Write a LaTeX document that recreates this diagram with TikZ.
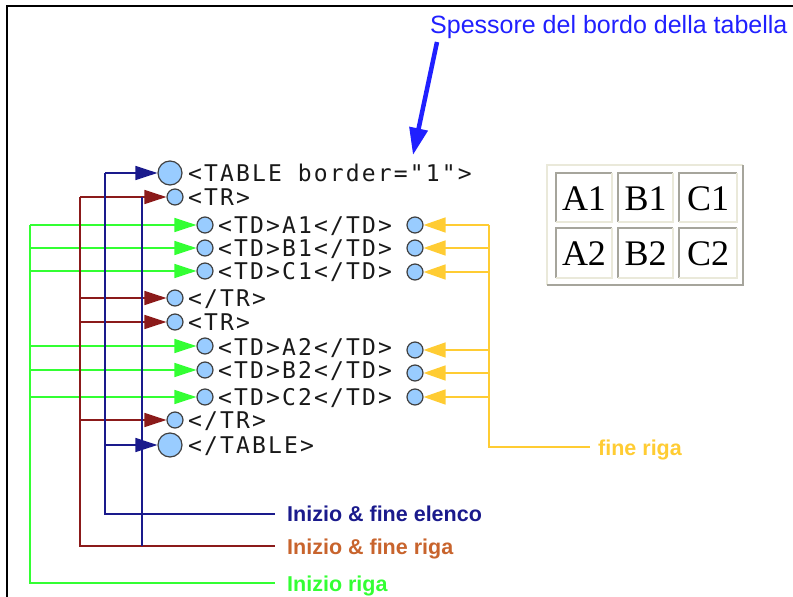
\documentclass[tikz,border=0pt]{standalone}
\usepackage{fontspec}
\setmainfont{Liberation Sans}
\setmonofont[LetterSpace=9.3]{DejaVu Sans Mono}
\newfontfamily\cellfont{Liberation Serif}
\usetikzlibrary{arrows.meta}
\definecolor{gr}{HTML}{33FF33}
\definecolor{mar}{HTML}{8B1A1A}
\definecolor{nav}{HTML}{1A1A8C}
\definecolor{yel}{HTML}{FFCC33}
\definecolor{cir}{HTML}{99CCFF}
\definecolor{rigalbl}{HTML}{C8642D}
\definecolor{bl}{HTML}{2020FF}
\definecolor{tlight}{HTML}{EAE9DA}
\definecolor{tdark}{HTML}{A6A59C}
\tikzset{
  bigdot/.style={circle,draw=black!75,fill=cir,line width=1.2pt,minimum size=24pt,inner sep=0pt},
  smalldot/.style={circle,draw=black!75,fill=cir,line width=1.2pt,minimum size=16pt,inner sep=0pt},
  code/.style={font=\ttfamily\fontsize{23}{23}\selectfont,anchor=base west,inner sep=0pt,text=black!90},
  lbl/.style={font=\bfseries\fontsize{21.5}{21.5}\selectfont,anchor=base west,inner sep=0pt},
  gline/.style={draw=gr,line width=1.6pt},
  mline/.style={draw=mar,line width=1.6pt},
  nline/.style={draw=nav,line width=1.6pt},
  yline/.style={draw=yel,line width=1.6pt},
  garrow/.style={gline,-{Triangle[length=22pt,width=14pt]}},
  marrow/.style={mline,-{Triangle[length=22pt,width=14pt]}},
  narrow/.style={nline,-{Triangle[length=22pt,width=14pt]}},
  yarrow/.style={yline,-{Triangle[length=22pt,width=15pt]}},
  cellbox/.style={font=\cellfont\fontsize{36}{36}\selectfont,inner sep=0pt},
}
\begin{document}
\begin{tikzpicture}[x=1pt,y=-1pt]
\useasboundingbox (0,0) rectangle (793,597);
% frame
\draw[line width=1.6pt] (7,597) -- (7,6) -- (793,6);

% title and arrow
\node[font=\fontsize{25}{25}\selectfont,text=bl,anchor=base west,inner sep=0pt] (sp) at (430,33) {Spessore del bordo della tabella};
\coordinate (spa) at (437,42);
\coordinate (spb) at (413,155);
\draw[bl,line width=4.5pt,-{Triangle[length=27pt,width=18pt]}] (spa) -- (spb);

% dots
\node[bigdot] (tab1) at (170,173) {};
\node[smalldot] (tr1) at (175,197) {};
\node[smalldot] (a1l) at (205,225) {};
\node[smalldot] (b1l) at (205,248) {};
\node[smalldot] (c1l) at (205,271) {};
\node[smalldot] (tr1e) at (175,298) {};
\node[smalldot] (tr2) at (175,322) {};
\node[smalldot] (a2l) at (205,346) {};
\node[smalldot] (b2l) at (205,370) {};
\node[smalldot] (c2l) at (205,397) {};
\node[smalldot] (tr2e) at (175,420) {};
\node[bigdot] (tab2) at (170,445) {};

\node[smalldot] (a1r) at (415,225) {};
\node[smalldot] (b1r) at (415,248) {};
\node[smalldot] (c1r) at (415,272) {};
\node[smalldot] (a2r) at (415,350) {};
\node[smalldot] (b2r) at (415,373) {};
\node[smalldot] (c2r) at (415,397) {};

% code texts
\node[code] (t1) at (188,181.5) {<TABLE border="1">};
\node[code] (t2) at (188,205.5) {<TR>};
\node[code] (t3) at (218,233.5) {<TD>A1</TD>};
\node[code] (t4) at (218,256.5) {<TD>B1</TD>};
\node[code] (t5) at (218,279.5) {<TD>C1</TD>};
\node[code] (t6) at (188,306.5) {</TR>};
\node[code] (t7) at (188,330.5) {<TR>};
\node[code] (t8) at (218,355.5) {<TD>A2</TD>};
\node[code] (t9) at (218,378.5) {<TD>B2</TD>};
\node[code] (t10) at (218,405.5) {<TD>C2</TD>};
\node[code] (t11) at (188,428.5) {</TR>};
\node[code] (t12) at (188,453.5) {</TABLE>};

% labels
\node[lbl,text=nav] (le) at (287,521) {Inizio \& fine elenco};
\node[lbl,text=rigalbl] (lr) at (287,554) {Inizio \& fine riga};
\node[lbl,text=gr] (lg) at (287,591) {Inizio riga};
\node[lbl,text=yel] (ly) at (598,455) {fine riga};

% green connectors
\coordinate (g1) at (30,225);
\coordinate (g2) at (30,248);
\coordinate (g3) at (30,271);
\coordinate (g4) at (30,346);
\coordinate (g5) at (30,370);
\coordinate (g6) at (30,397);
\coordinate (gend) at (275,583);
\draw[gline] (g1) |- (gend);
\draw[garrow] (g1) -- (a1l);
\draw[garrow] (g2) -- (b1l);
\draw[garrow] (g3) -- (c1l);
\draw[garrow] (g4) -- (a2l);
\draw[garrow] (g5) -- (b2l);
\draw[garrow] (g6) -- (c2l);

% maroon connectors
\coordinate (m1) at (80,197);
\coordinate (m2) at (80,298);
\coordinate (m3) at (80,322);
\coordinate (m4) at (80,420);
\coordinate (mend) at (275,546);
\draw[mline] (m1) |- (mend);
\draw[marrow] (m1) -- (tr1);
\draw[marrow] (m2) -- (tr1e);
\draw[marrow] (m3) -- (tr2);
\draw[marrow] (m4) -- (tr2e);

% navy connectors
\coordinate (n1) at (105,173);
\coordinate (n2) at (105,445);
\coordinate (nend) at (275,514);
\draw[nline] (n1) |- (nend);
\draw[narrow] (n1) -- (tab1);
\draw[narrow] (n2) -- (tab2);
\coordinate (nv1) at (142,197);
\coordinate (nv2) at (142,546);
\draw[nline] (nv1) -- (nv2);

% yellow connectors
\coordinate (y1) at (489,225);
\coordinate (y2) at (489,248);
\coordinate (y3) at (489,272);
\coordinate (y4) at (489,350);
\coordinate (y5) at (489,373);
\coordinate (y6) at (489,397);
\coordinate (yend) at (590,447);
\draw[yline] (y1) |- (yend);
\draw[yarrow] (y1) -- (a1r);
\draw[yarrow] (y2) -- (b1r);
\draw[yarrow] (y3) -- (c1r);
\draw[yarrow] (y4) -- (a2r);
\draw[yarrow] (y5) -- (b2r);
\draw[yarrow] (y6) -- (c2r);

% rendered table
\draw[tlight,line width=2.2pt] (547,285) -- (547,165) -- (743,165);
\draw[tdark,line width=2.2pt] (547,285) -- (743,285) -- (743,165);
\foreach \xa/\xb/\ya/\yb/\t in {556/612/173/222/A1, 618/673/173/222/B1, 679/737/173/222/C1,
                                556/612/228/278/A2, 618/673/228/278/B2, 679/737/228/278/C2}{
  \draw[tdark,line width=2pt] (\xa,\yb) -- (\xa,\ya) -- (\xb,\ya);
  \draw[tlight,line width=2pt] (\xa,\yb) -- (\xb,\yb) -- (\xb,\ya);
  \node[cellbox] (cell\t) at ({(\xa+\xb)/2},{(\ya+\yb)/2+1}) {\t};
}
\end{tikzpicture}
\end{document}
